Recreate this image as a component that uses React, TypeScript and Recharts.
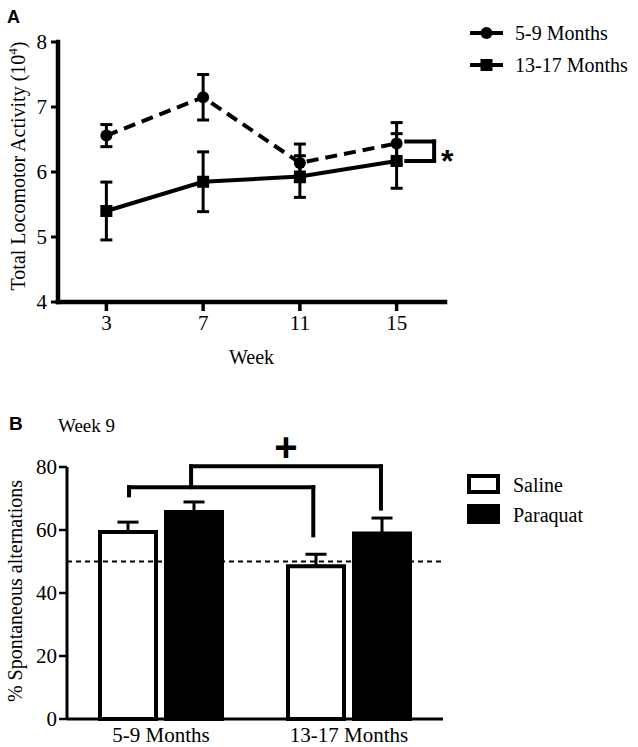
import React from "react";
import {
  LineChart,
  Line,
  XAxis,
  YAxis,
  ErrorBar,
  ReferenceLine,
  Label,
  BarChart,
  Bar,
} from "recharts";

// Panel A: locomotor activity by week
const weeks = [3, 7, 11, 15];
const youngMeans = [6.56, 7.15, 6.14, 6.44];
const youngErr = [0.17, 0.35, 0.29, 0.32];
const oldMeans = [5.4, 5.85, 5.93, 6.17];
const oldErr = [0.445, 0.46, 0.32, 0.42];
const lineSeries = ["5-9 Months", "13-17 Months"];
const activityTicks = [4, 5, 6, 7, 8];
const weekTicks = [3, 7, 11, 15];

// Panel B: spontaneous alternations at week 9
const groups = ["5-9 Months", "13-17 Months"];
const salineMeans = [59.4, 48.5];
const salineErr = [3.1, 3.8];
const paraquatMeans = [65.7, 58.9];
const paraquatErr = [3.2, 4.9];
const treatments = ["Saline", "Paraquat"];
const alternationTicks = [0, 20, 40, 60, 80];
const chanceLevel = 50;

// significance brackets (data units; panel B x runs 0..2 across the two groups)
const starBracket = { x1: 15.4, x2: 16.55, yTop: 6.47, yBottom: 6.17 };
const lowBracket = { x1: 0.33, x2: 1.31, y: 73.6, leftEnd: 71, rightEnd: 58.3 };
const highBracket = { x1: 0.66, x2: 1.67, y: 80.2, rightEnd: 66.8 };

const lineData = weeks.map((w, i) => ({
  week: w,
  young: youngMeans[i],
  youngErr: youngErr[i],
  old: oldMeans[i],
  oldErr: oldErr[i],
}));

const barData = groups.map((g, i) => ({
  group: g,
  pos: i + 0.5,
  saline: salineMeans[i],
  salineErr: [0, salineErr[i]],
  paraquat: paraquatMeans[i],
  paraquatErr: [0, paraquatErr[i]],
}));

const serif = '"Liberation Serif", "Times New Roman", serif';
const sans = '"Liberation Sans", Arial, sans-serif';
const black = "#000";

const barMargin = { top: 87, right: 195, bottom: 0, left: 0 };
const barYAxisWidth = 67;
const barXAxisHeight = 28;

const circleDot = (p: any) => (
  <circle key={`c-${p.index}`} cx={p.cx} cy={p.cy} r={6} fill={black} />
);
const squareDot = (p: any) => (
  <rect key={`s-${p.index}`} x={p.cx - 6} y={p.cy - 6} width={12} height={12} fill={black} />
);

const bracketProps = {
  stroke: black,
  strokeWidth: 4,
  strokeLinecap: "square" as const,
  ifOverflow: "visible" as const,
};

function ActivityLabel() {
  return (
    <text
      transform="translate(25,166) rotate(-90)"
      textAnchor="middle"
      fontFamily={serif}
      fontSize={20}
      fill={black}
    >
      Total  Locomotor Activity (10
      <tspan dy={-8} fontSize={13}>4</tspan>
      <tspan dy={8}>)</tspan>
    </text>
  );
}

function AlternationLabel() {
  return (
    <text
      transform="translate(22,211) rotate(-90)"
      textAnchor="middle"
      fontFamily={serif}
      fontSize={20}
      fill={black}
    >
      % Spontaneous alternations
    </text>
  );
}

function StarLabel(props: any) {
  const { x, y, height } = props.viewBox;
  return (
    <text x={x + 7} y={y + height / 2 + 21} fontFamily={sans} fontWeight="bold" fontSize={32} fill={black}>
      *
    </text>
  );
}

function PlusLabel(props: any) {
  const { x, y, width } = props.viewBox;
  return (
    <text
      x={x + width / 2}
      y={y - 5}
      textAnchor="middle"
      fontFamily={sans}
      fontWeight="bold"
      fontSize={40}
      fill={black}
    >
      +
    </text>
  );
}

export default function App() {
  return (
    <div
      style={{
        position: "absolute",
        left: 0,
        top: 0,
        width: 638,
        height: 747,
        background: "#fff",
        fontFamily: serif,
      }}
    >
      <div style={{ position: "absolute", left: 0, top: 0 }}>
        <LineChart
          width={638}
          height={370}
          data={lineData}
          margin={{ top: 42, right: 193, bottom: 0, left: 0 }}
          style={{ fontFamily: serif }}
        >
          <XAxis
            dataKey="week"
            type="number"
            domain={[1, 17]}
            ticks={weekTicks}
            height={68}
            tickSize={9}
            tickMargin={4}
            axisLine={{ stroke: black, strokeWidth: 4.5, strokeLinecap: "square" }}
            tickLine={{ stroke: black, strokeWidth: 3.5 }}
            tick={{ fill: black, fontSize: 21, fontFamily: serif }}
          >
            <Label value="Week" position="insideBottom" offset={6} fill={black} fontSize={20} fontFamily={serif} />
          </XAxis>
          <YAxis
            domain={[4, 8]}
            ticks={activityTicks}
            width={58}
            tickSize={7}
            tickMargin={4}
            axisLine={{ stroke: black, strokeWidth: 4.5, strokeLinecap: "square" }}
            tickLine={{ stroke: black, strokeWidth: 3 }}
            tick={{ fill: black, fontSize: 21, fontFamily: serif }}
          >
            <Label content={<ActivityLabel />} />
          </YAxis>
          <Line
            dataKey="young"
            name={lineSeries[0]}
            stroke={black}
            strokeWidth={4}
            strokeDasharray="12 7"
            dot={circleDot}
            activeDot={false}
            isAnimationActive={false}
          >
            <ErrorBar dataKey="youngErr" width={6} stroke={black} strokeWidth={3} direction="y" />
          </Line>
          <Line
            dataKey="old"
            name={lineSeries[1]}
            stroke={black}
            strokeWidth={4}
            dot={squareDot}
            activeDot={false}
            isAnimationActive={false}
          >
            <ErrorBar dataKey="oldErr" width={6} stroke={black} strokeWidth={3} direction="y" />
          </Line>
          <ReferenceLine
            segment={[
              { x: starBracket.x1, y: starBracket.yTop },
              { x: starBracket.x2, y: starBracket.yTop },
            ]}
            {...bracketProps}
          />
          <ReferenceLine
            segment={[
              { x: starBracket.x1, y: starBracket.yBottom },
              { x: starBracket.x2, y: starBracket.yBottom },
            ]}
            {...bracketProps}
          />
          <ReferenceLine
            segment={[
              { x: starBracket.x2, y: starBracket.yBottom },
              { x: starBracket.x2, y: starBracket.yTop },
            ]}
            {...bracketProps}
          >
            <Label content={<StarLabel />} />
          </ReferenceLine>
        </LineChart>
      </div>

      <div style={{ position: "absolute", left: 0, top: 380 }}>
        <BarChart
          width={638}
          height={367}
          data={barData}
          margin={barMargin}
          barGap={10}
          style={{ fontFamily: serif }}
        >
          <XAxis
            dataKey="group"
            height={barXAxisHeight}
            tickLine={false}
            tickSize={6}
            tickMargin={2}
            axisLine={{ stroke: black, strokeWidth: 3 }}
            tick={{ fill: black, fontSize: 21, fontFamily: serif }}
          />
          <YAxis
            domain={[0, 80]}
            ticks={alternationTicks}
            width={barYAxisWidth}
            tickSize={8}
            tickMargin={2}
            axisLine={{ stroke: black, strokeWidth: 3 }}
            tickLine={{ stroke: black, strokeWidth: 2.5 }}
            tick={{ fill: black, fontSize: 21, fontFamily: serif }}
          >
            <Label content={<AlternationLabel />} />
          </YAxis>
          <Bar
            dataKey="saline"
            name={treatments[0]}
            fill="#fff"
            stroke={black}
            strokeWidth={4}
            barSize={56}
            isAnimationActive={false}
          >
            <ErrorBar dataKey="salineErr" width={10.5} stroke={black} strokeWidth={3} />
          </Bar>
          <Bar
            dataKey="paraquat"
            name={treatments[1]}
            fill={black}
            stroke={black}
            strokeWidth={4}
            barSize={56}
            isAnimationActive={false}
          >
            <ErrorBar dataKey="paraquatErr" width={10.5} stroke={black} strokeWidth={3} />
          </Bar>
          <ReferenceLine y={chanceLevel} stroke={black} strokeWidth={2} strokeDasharray="5 4" />
        </BarChart>
      </div>

      {/* bracket overlay for panel B: same plot area, numeric x running 0..2 */}
      <div style={{ position: "absolute", left: 0, top: 380, pointerEvents: "none" }}>
        <LineChart
          width={638}
          height={367}
          data={barData}
          margin={{
            top: barMargin.top,
            right: barMargin.right,
            bottom: barMargin.bottom + barXAxisHeight,
            left: barMargin.left + barYAxisWidth,
          }}
        >
          <XAxis dataKey="pos" type="number" domain={[0, 2]} allowDataOverflow hide />
          <YAxis domain={[0, 80]} allowDataOverflow hide />
          <ReferenceLine
            segment={[
              { x: lowBracket.x1, y: lowBracket.leftEnd },
              { x: lowBracket.x1, y: lowBracket.y },
            ]}
            {...bracketProps}
          />
          <ReferenceLine
            segment={[
              { x: lowBracket.x1, y: lowBracket.y },
              { x: lowBracket.x2, y: lowBracket.y },
            ]}
            {...bracketProps}
          />
          <ReferenceLine
            segment={[
              { x: lowBracket.x2, y: lowBracket.y },
              { x: lowBracket.x2, y: lowBracket.rightEnd },
            ]}
            {...bracketProps}
          />
          <ReferenceLine
            segment={[
              { x: highBracket.x1, y: lowBracket.y },
              { x: highBracket.x1, y: highBracket.y },
            ]}
            {...bracketProps}
          />
          <ReferenceLine
            segment={[
              { x: highBracket.x1, y: highBracket.y },
              { x: highBracket.x2, y: highBracket.y },
            ]}
            {...bracketProps}
          >
            <Label content={<PlusLabel />} />
          </ReferenceLine>
          <ReferenceLine
            segment={[
              { x: highBracket.x2, y: highBracket.y },
              { x: highBracket.x2, y: highBracket.rightEnd },
            ]}
            {...bracketProps}
          />
        </LineChart>
      </div>

      {/* panel letters, subtitle and legends */}
      <svg
        width={638}
        height={747}
        style={{ position: "absolute", left: 0, top: 0, pointerEvents: "none" }}
      >
        <text x={7} y={23} fontFamily={sans} fontWeight="bold" fontSize={18} fill={black}>
          A
        </text>
        <text x={9} y={430} fontFamily={sans} fontWeight="bold" fontSize={19} fill={black}>
          B
        </text>
        <text x={58} y={432} fontFamily={serif} fontSize={19} fill={black}>
          Week 9
        </text>

        {lineSeries.map((name, i) => {
          const y = 33 + i * 32;
          return (
            <g key={name}>
              <line x1={470} x2={503} y1={y} y2={y} stroke={black} strokeWidth={4} />
              {i === 0 ? (
                <circle cx={486.5} cy={y} r={6} fill={black} />
              ) : (
                <rect x={480.5} y={y - 6} width={12} height={12} fill={black} />
              )}
              <text x={515} y={y + 7} fontFamily={serif} fontSize={20} fill={black}>
                {name}
              </text>
            </g>
          );
        })}

        {treatments.map((name, i) => {
          const y = 476 + i * 30;
          return (
            <g key={name}>
              <rect
                x={469}
                y={y}
                width={29}
                height={16}
                fill={i === 0 ? "#fff" : black}
                stroke={black}
                strokeWidth={4}
              />
              <text x={513} y={y + 16} fontFamily={serif} fontSize={20} fill={black}>
                {name}
              </text>
            </g>
          );
        })}
      </svg>
    </div>
  );
}
